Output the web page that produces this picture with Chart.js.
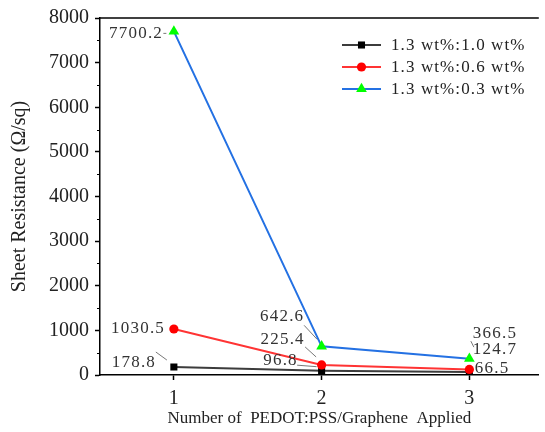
<!DOCTYPE html>
<html>
<head>
<meta charset="utf-8">
<script src="https://cdn.jsdelivr.net/npm/chart.js@4.4.1/dist/chart.umd.min.js"></script>
<style>
  html, body { margin: 0; padding: 0; background: #fff; overflow: hidden; }
  #wrap { width: 545px; height: 432px; position: relative; }
</style>
</head>
<body>
<div id="wrap"><canvas id="chart"></canvas></div>
<script>
// Data
const runs = [1, 2, 3];
const seriesNames = ['1.3 wt%:1.0 wt%', '1.3 wt%:0.6 wt%', '1.3 wt%:0.3 wt%'];
const ratio10 = [178.8, 96.8, 66.5];
const ratio06 = [1030.5, 225.4, 124.7];
const ratio03 = [7700.2, 642.6, 366.5];

// Styling per series
const lineColors = ['#3c3c3c', '#ff3434', '#2471e3'];
const markerColors = ['#000000', '#ff0000', '#00ff00'];
const markerStyles = ['rect', 'circle', 'triangle'];
const markerRadius = [5, 4.6, 6.2];

// label placement relative to the point: [dx, dy, align, leader(x1,y1,x2,y2) or null]
const labelPlacement = [
  [[-19, -4, 'right', [-18, -15, -7, -7]],
   [-25, -10, 'right', [-24.5, -5.5, -5, -4]],
   [5.5, -3.5, 'left', null]],
  [[-10, -0.5, 'right', null],
   [-18, -25.5, 'right', [-16.5, -18, -5.5, -8]],
   [3.5, -19.5, 'left', null]],
  [[-12, 2.5, 'right', [-10.5, 2, -7.5, 2]],
   [-18.5, -29.5, 'right', [-17.5, -21, -4.5, -7]],
   [3.5, -25, 'left', [1.5, -17.5, 4.5, -11.5]]]
];

const serif = '"Liberation Serif", "Times New Roman", serif';
const allSeries = [ratio10, ratio06, ratio03];

const datasets = allSeries.map((vals, i) => ({
  label: seriesNames[i],
  data: vals.map((v, j) => ({ x: runs[j], y: v })),
  borderColor: lineColors[i],
  borderWidth: 2,
  pointStyle: markerStyles[i],
  pointRadius: markerRadius[i],
  pointBackgroundColor: markerColors[i],
  pointBorderWidth: 0,
  order: 3 - i,
  tension: 0
}));

// top frame line + minor y ticks
const framePlugin = {
  id: 'frame',
  afterDraw(chart) {
    const ctx = chart.ctx;
    const a = chart.chartArea;
    const y = chart.scales.y;
    ctx.save();
    ctx.strokeStyle = '#000';
    ctx.lineWidth = 1.5;
    ctx.beginPath();
    ctx.moveTo(a.left, a.top);
    ctx.lineTo(a.right, a.top);
    ctx.stroke();
    ctx.lineWidth = 1;
    for (let v = 500; v < 8000; v += 1000) {
      const py = Math.round(y.getPixelForValue(v)) + 0.5;
      ctx.beginPath();
      ctx.moveTo(a.left - 3, py);
      ctx.lineTo(a.left, py);
      ctx.stroke();
    }
    ctx.restore();
  }
};

// value labels with leader lines
const labelPlugin = {
  id: 'valueLabels',
  afterDatasetsDraw(chart) {
    const ctx = chart.ctx;
    ctx.save();
    ctx.font = '17px ' + serif;
    ctx.letterSpacing = '1.2px';
    ctx.fillStyle = '#333';
    ctx.textBaseline = 'middle';
    chart.data.datasets.forEach((ds, i) => {
      const meta = chart.getDatasetMeta(i);
      meta.data.forEach((pt, j) => {
        const [dx, dy, align, leader] = labelPlacement[i][j];
        const text = allSeries[i][j].toFixed(1);
        ctx.textAlign = align;
        const tx = align === 'right' ? pt.x + dx + 1.2 : pt.x + dx;
        ctx.fillText(text, tx, pt.y + dy);
        if (leader) {
          ctx.strokeStyle = '#555';
          ctx.lineWidth = 0.8;
          ctx.beginPath();
          ctx.moveTo(pt.x + leader[0], pt.y + leader[1]);
          ctx.lineTo(pt.x + leader[2], pt.y + leader[3]);
          ctx.stroke();
        }
      });
    });
    ctx.restore();
  }
};

// legend with line + marker
const legendPlugin = {
  id: 'lineLegend',
  afterDraw(chart) {
    const ctx = chart.ctx;
    const rows = [45, 67, 89];
    ctx.save();
    chart.data.datasets.forEach((ds, i) => {
      const y = rows[i];
      ctx.strokeStyle = lineColors[i];
      ctx.lineWidth = 2;
      ctx.beginPath();
      ctx.moveTo(342, y);
      ctx.lineTo(381, y);
      ctx.stroke();
      ctx.fillStyle = markerColors[i];
      Chart.helpers.drawPoint(ctx, {
        pointStyle: markerStyles[i], radius: markerRadius[i], rotation: 0, borderWidth: 0
      }, 361.5, y);
      ctx.fillStyle = '#222';
      ctx.font = '17px ' + serif;
      ctx.letterSpacing = '1.1px';
      ctx.textAlign = 'left';
      ctx.textBaseline = 'middle';
      ctx.fillText(ds.label, 391, y + 1);
    });
    ctx.restore();
  }
};

new Chart(document.getElementById('chart'), {
  type: 'line',
  data: { datasets },
  options: {
    responsive: true,
    maintainAspectRatio: false,
    animation: false,
    devicePixelRatio: 1,
    layout: { padding: { top: 15, left: 0, right: 0, bottom: 0 } },
    plugins: { legend: { display: false }, tooltip: { enabled: false } },
    scales: {
      x: {
        type: 'linear',
        min: 0.5,
        max: 3.47,
        afterBuildTicks: s => { s.ticks = runs.map(v => ({ value: v })); },
        afterFit: s => { s.height = 57; },
        ticks: { font: { family: serif, size: 20 }, color: '#222', padding: 7, callback: v => String(v) },
        grid: { drawOnChartArea: false, tickLength: 5, tickColor: '#000', tickWidth: 1.5 },
        border: { color: '#000', width: 1.5 },
        title: {
          display: true,
          text: 'Number of  PEDOT:PSS/Graphene  Applied',
          font: { family: serif, size: 17 },
          color: '#222',
          padding: { top: 0, bottom: 3 }
        }
      },
      y: {
        min: 0,
        max: 8000,
        afterFit: s => { s.width = 100; },
        ticks: { stepSize: 1000, font: { family: serif, size: 20 }, color: '#222', padding: 6, callback: v => String(v) },
        grid: { drawOnChartArea: false, tickLength: 5, tickColor: '#000', tickWidth: 1.5 },
        border: { color: '#000', width: 1.5 },
        title: {
          display: true,
          text: 'Sheet Resistance (Ω/sq)',
          font: { family: serif, size: 20 },
          color: '#222',
          padding: { top: 8, bottom: 0 }
        }
      }
    }
  },
  plugins: [framePlugin, labelPlugin, legendPlugin]
});
</script>
</body>
</html>
